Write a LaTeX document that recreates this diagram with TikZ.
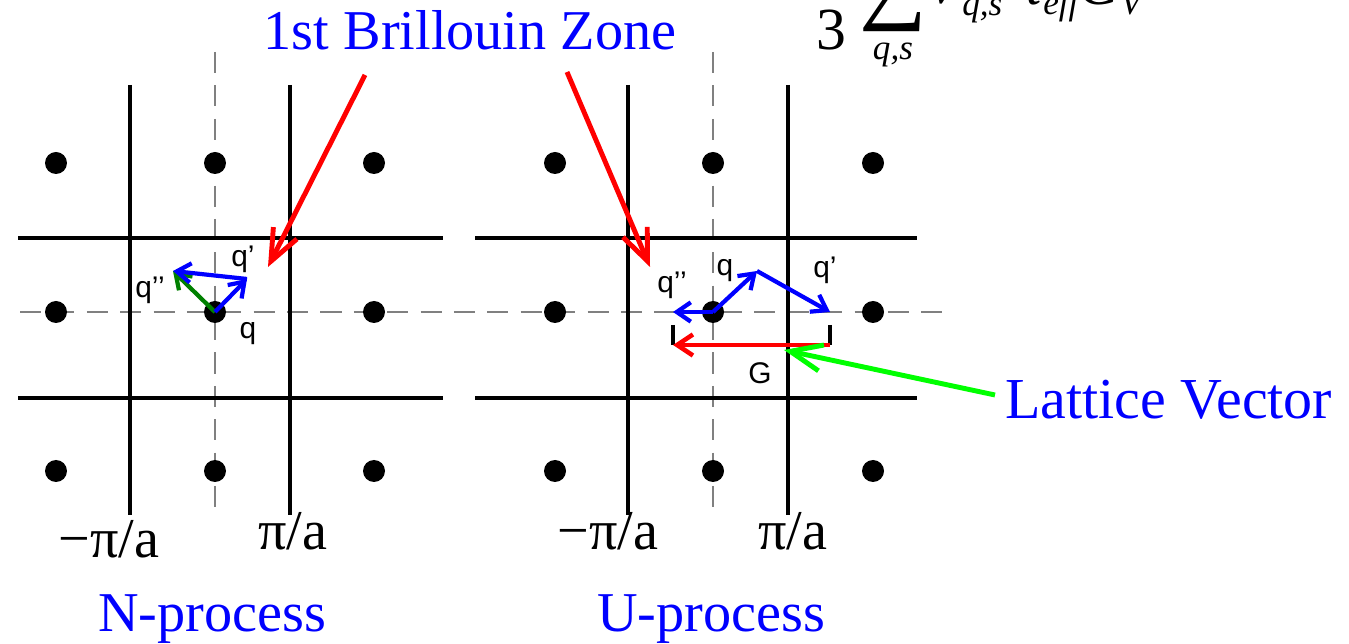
\documentclass[tikz,border=0pt]{standalone}
\usepackage{fontspec}
\setmainfont{Liberation Serif}
\newfontfamily\labelfont{Liberation Sans}
\usetikzlibrary{arrows.meta}

\begin{document}
\begin{tikzpicture}[x=0.02cm, y=-0.02cm,
    every node/.style={inner sep=0pt},
    zone/.style={line width=2.8pt},
    guide/.style={draw=gray, line width=1.6pt, dash pattern=on 12pt off 7pt},
    site/.style={circle, fill=black, minimum size=0.44cm},
    title/.style={text=blue, font=\fontsize{32}{38}\selectfont},
    edge/.style={font=\fontsize{32}{38}\selectfont},
    fterm/.style={font=\fontsize{34}{40}\selectfont},
    fsub/.style={font=\fontsize{20}{24}\selectfont\itshape},
    qlabel/.style={font=\labelfont\fontsize{17}{20}\selectfont},
    vec/.style={line width=2.4pt, -{Straight Barb[length=8pt,width=11pt]}},
    pointer/.style={line width=2.8pt, -{Straight Barb[length=18pt,width=15pt]}}]
  \useasboundingbox (0,0) rectangle (1349,644);
  \clip (0,0) rectangle (1349,644);

  % cut-off formula at the top
  \node[fterm, anchor=base] (eq) at (728,13) {=};
  \node[fterm, anchor=base] (three) at (831,50) {3};
  \node[anchor=base, font=\fontsize{54}{60}\selectfont] (sigma) at (893,12) {∑};
  \node[fsub, anchor=base] (sigsub) at (893,60) {q,s};
  \node[fterm, anchor=base] (vel) at (944,4) {\itshape v};
  \node[fsub, anchor=base west] (velsub) at (962,16) {q,s};
  \node[fterm, anchor=base] (tau) at (1033,5) {\itshape τ};
  \node[fsub, anchor=base west] (tausub) at (1043,15) {eff};
  \node[fterm, anchor=base] (cap) at (1098,5) {\itshape C};
  \node[fsub, anchor=base west] (capsub) at (1120,15) {V};

  % dashed axes
  \draw[guide] (20,312) -- (945,312);
  \draw[guide] (215,52) -- (215,515);
  \draw[guide] (713,52) -- (713,515);

  % zone boundaries, N-process
  \draw[zone] (130,85) -- (130,515);
  \draw[zone] (290,85) -- (290,515);
  \draw[zone] (18,238) -- (443,238);
  \draw[zone] (18,398) -- (443,398);
  % zone boundaries, U-process
  \draw[zone] (628,85) -- (628,515);
  \draw[zone] (788,85) -- (788,515);
  \draw[zone] (475,238) -- (917,238);
  \draw[zone] (475,398) -- (917,398);

  % lattice points
  \foreach \x/\n in {56/a,215/b,374/c}
    \foreach \y/\m in {163/1,312/2,471/3}
      \node[site] (L\n\m) at (\x,\y) {};
  \foreach \x/\n in {555/a,713/b,873/c}
    \foreach \y/\m in {163/1,312/2,471/3}
      \node[site] (R\n\m) at (\x,\y) {};

  % N-process vectors
  \coordinate (nq) at (247,279);
  \coordinate (nqq) at (173,271);
  \draw[vec, green!50!black] (Lb2.center) -- (nqq);
  \draw[vec, blue] (Lb2.center) -- (nq);
  \draw[vec, blue] (nq) -- (nqq);
  \node[qlabel] (nqlab) at (248,334) {q};
  \node[qlabel] (nqplab) at (243,259) {q’};
  \node[qlabel] (nqqlab) at (150,290) {q’’};

  % U-process vectors
  \coordinate (uq) at (757,271);
  \coordinate (uqp) at (830,312);
  \coordinate (uqq) at (673,312);
  \coordinate (gs) at (830,345);
  \coordinate (ge) at (673,345);
  \draw[line width=1.8pt] (830,325) -- (gs);
  \draw[line width=1.8pt] (673,325) -- (ge);
  \draw[vec, blue] (Rb2.center) -- (uq);
  \draw[vec, blue] (uq) -- (uqp);
  \draw[vec, blue] (Rb2.center) -- (uqq);
  \draw[line width=2.6pt, red, -{Straight Barb[length=9pt,width=12pt]}] (gs) -- (ge);
  \node[qlabel] (uqlab) at (725,271) {q};
  \node[qlabel] (uqplab) at (825,270) {q’};
  \node[qlabel] (uqqlab) at (672,285) {q’’};
  \node[qlabel] (glab) at (760,373) {G};

  % labels and pointers
  \node[title, anchor=base] (bz) at (470,50) {1st Brillouin Zone};
  \coordinate (bzl) at (365,75);
  \coordinate (bzr) at (567,72);
  \coordinate (tipl) at (268,267);
  \coordinate (tipr) at (650,267);
  \draw[pointer, red] (bzl) -- (tipl);
  \draw[pointer, red] (bzr) -- (tipr);

  \node[title, anchor=base west, font=\fontsize{33}{38}\selectfont] (lv) at (1005,419) {Lattice Vector};
  \coordinate (lvs) at (995,395);
  \coordinate (lvt) at (784,350);
  \draw[pointer, green] (lvs) -- (lvt);

  \node[edge, anchor=base] (nmin) at (109,558) {−π/a};
  \node[edge, anchor=base] (nmax) at (293,550) {π/a};
  \node[edge, anchor=base] (umin) at (608,550) {−π/a};
  \node[edge, anchor=base] (umax) at (793,550) {π/a};
  \node[title, anchor=base] (nproc) at (212,632) {N-process};
  \node[title, anchor=base] (uproc) at (711,632) {U-process};
\end{tikzpicture}
\end{document}
